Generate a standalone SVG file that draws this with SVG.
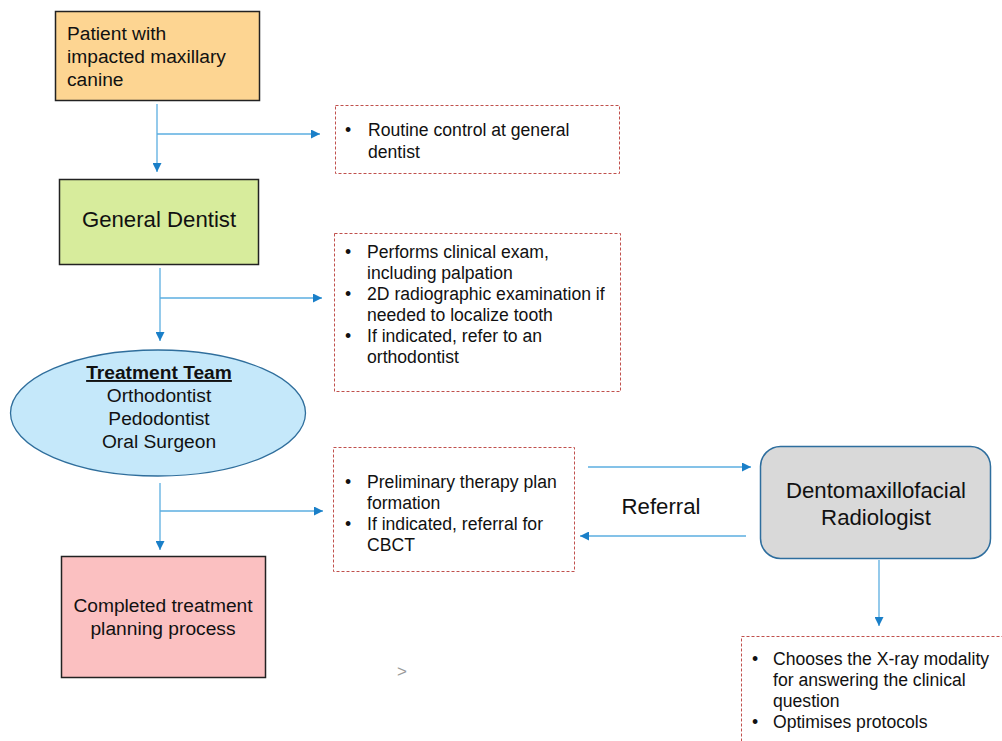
<svg xmlns="http://www.w3.org/2000/svg" width="1002" height="741" viewBox="0 0 1002 741">
<style>
text{font-family:"Liberation Sans",Arial,sans-serif;fill:#111}
.box{stroke:#222;stroke-width:1.5}
.note{fill:#fff;stroke:#C0504D;stroke-width:1;stroke-dasharray:3,2}
.ln{stroke:#5BAEE0;stroke-width:1.3;fill:none}
.b{font-size:17.6px}
.n{font-size:19.2px}
.g{font-size:22.2px}
.c{text-anchor:middle}
</style>
<defs>
<marker id="ah" viewBox="0 0 10 10" refX="10" refY="5" markerWidth="9" markerHeight="9" markerUnits="userSpaceOnUse" orient="auto">
<path d="M0,0 L10,5 L0,10 z" fill="#1A7FC8"/>
</marker>
</defs>
<rect width="1002" height="741" fill="#fff"/>
<g id="connectors">
<path class="ln" d="M157,104 V172" marker-end="url(#ah)"/>
<path class="ln" d="M157,134 H320" marker-end="url(#ah)"/>
<path class="ln" d="M160,268 V341" marker-end="url(#ah)"/>
<path class="ln" d="M160,298 H322" marker-end="url(#ah)"/>
<path class="ln" d="M160,483 V550" marker-end="url(#ah)"/>
<path class="ln" d="M160,511 H323" marker-end="url(#ah)"/>
<path class="ln" d="M588,467 H751" marker-end="url(#ah)"/>
<path class="ln" d="M746,536 H580" marker-end="url(#ah)"/>
<path class="ln" d="M879,560 V626" marker-end="url(#ah)"/>
</g>
<g id="patient">
<rect class="box" x="55.5" y="11.5" width="204" height="89" fill="#FDD592"/>
<text class="n" x="67" y="40">Patient with</text>
<text class="n" x="67" y="63">impacted maxillary</text>
<text class="n" x="67" y="86">canine</text>
</g>
<g id="routine">
<rect class="note" x="335.5" y="105.5" width="284" height="68"/>
<text class="b" x="345" y="136">•</text>
<text class="b" x="368" y="136">Routine control at general</text>
<text class="b" x="368" y="158">dentist</text>
</g>
<g id="general-dentist">
<rect class="box" x="59.5" y="179.5" width="199" height="85" fill="#D7EC9C"/>
<text class="c g" x="159" y="227">General Dentist</text>
</g>
<g id="exam">
<rect class="note" x="334.5" y="233.5" width="286" height="158"/>
<text class="b" x="345" y="258">•</text>
<text class="b" x="367" y="258">Performs clinical exam,</text>
<text class="b" x="367" y="279">including palpation</text>
<text class="b" x="345" y="300">•</text>
<text class="b" x="367" y="300">2D radiographic examination if</text>
<text class="b" x="367" y="321">needed to localize tooth</text>
<text class="b" x="345" y="342">•</text>
<text class="b" x="367" y="342">If indicated, refer to an</text>
<text class="b" x="367" y="363">orthodontist</text>
</g>
<g id="treatment-team">
<ellipse cx="158" cy="413" rx="147.5" ry="63" fill="#C5E8FA" stroke="#2F6E9C" stroke-width="1.3"/>
<text class="c n" x="159" y="379" font-weight="bold" text-decoration="underline">Treatment Team</text>
<text class="c n" x="159" y="402">Orthodontist</text>
<text class="c n" x="159" y="425">Pedodontist</text>
<text class="c n" x="159" y="448">Oral Surgeon</text>
</g>
<g id="preliminary">
<rect class="note" x="333.5" y="447.5" width="241" height="124"/>
<text class="b" x="345" y="488">•</text>
<text class="b" x="367" y="488">Preliminary therapy plan</text>
<text class="b" x="367" y="509">formation</text>
<text class="b" x="345" y="530">•</text>
<text class="b" x="367" y="530">If indicated, referral for</text>
<text class="b" x="367" y="551">CBCT</text>
</g>
<g id="completed">
<rect class="box" x="61.5" y="556.5" width="204" height="121" fill="#FBC0C1"/>
<text class="c n" x="163" y="612">Completed treatment</text>
<text class="c n" x="163" y="635">planning process</text>
</g>
<g id="referral-label">
<text class="c g" x="661" y="514">Referral</text>
</g>
<g id="radiologist">
<rect x="760.5" y="446.5" width="230" height="112" rx="20" fill="#D9D9D9" stroke="#2E6E9E" stroke-width="1.5"/>
<text class="c g" x="876" y="498">Dentomaxillofacial</text>
<text class="c g" x="876" y="525">Radiologist</text>
</g>
<g id="modality">
<rect class="note" x="741.5" y="636.5" width="270" height="120"/>
<text class="b" x="752" y="665">•</text>
<text class="b" x="773" y="665">Chooses the X-ray modality</text>
<text class="b" x="773" y="686">for answering the clinical</text>
<text class="b" x="773" y="707">question</text>
<text class="b" x="752" y="728">•</text>
<text class="b" x="773" y="728">Optimises protocols</text>
</g>
<text x="397" y="677" font-size="17" style="fill:#999">&gt;</text>
</svg>
